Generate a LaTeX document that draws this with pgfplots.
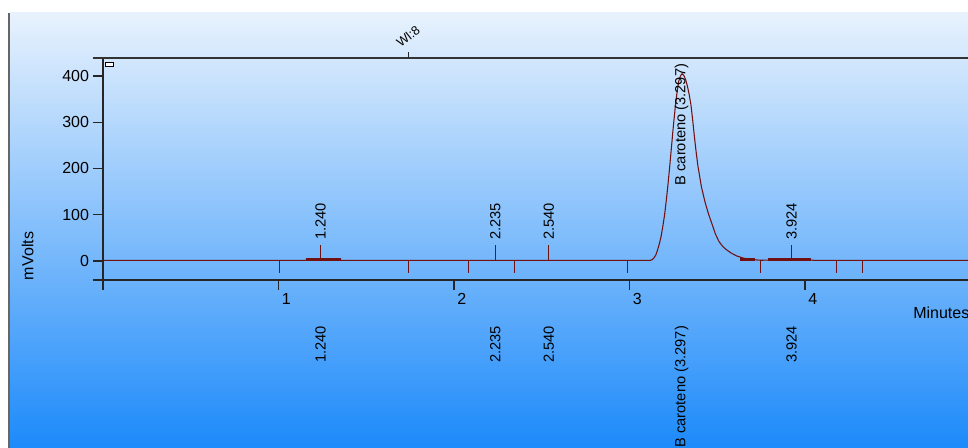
\documentclass[border=0pt]{standalone}
\usepackage{pgfplots}
\pgfplotsset{compat=1.18}
\usepackage{fontspec}
\setmainfont{Liberation Sans}
\definecolor{trace}{RGB}{112,16,16}
\definecolor{bgtop}{RGB}{232,242,253}
\definecolor{bgmid}{RGB}{135,193,251}
\definecolor{bgbot}{RGB}{28,138,250}
\newcommand{\lbl}{\fontsize{11}{12}\selectfont}
\newcommand{\tlbl}{\fontsize{12}{13}\selectfont}
\begin{document}
\begin{tikzpicture}
\fill[white] (-77.25pt,-126pt) rectangle (648.75pt,210pt);
\shade[top color=bgtop, middle color=bgmid, bottom color=bgbot] (-69.75pt,-126pt) rectangle (648.75pt,200.25pt);
\draw[line width=1.5pt, gray!80!black] (-70.5pt,-126pt) -- (-70.5pt,200.25pt);
\begin{axis}[at={(0,0)}, anchor=south west, scale only axis,
  width=648.75pt, height=166.5pt,
  xmin=0, xmax=4.9288, ymin=-41.1, ymax=438.9, clip=false,
  axis lines*=left, axis line style={-, line width=1pt, black!85},
  tick align=outside, major tick length=7.5pt,
  tick style={line width=0.8pt, black!85},
  xtick={0,1,2,3,4}, xticklabels={,1,2,3,4},
  ytick={0,100,200,300,400},
  tick label style={font=\tlbl},
  /pgf/number format/assume math mode=true,
  x tick label style={anchor=north west, xshift=-1pt, yshift=1pt},
  y tick label style={xshift=0.5pt},
]
% main trace
\addplot[trace, line width=0.8pt] coordinates {
(0.005,1.5) (1.15,1.5) (1.17,3) (1.24,4) (1.34,3) (1.36,1.5)
(3.12,1.5) (3.13,3) (3.14,7) (3.15,13) (3.16,24) (3.17,37) (3.18,53) (3.19,75)
(3.20,100) (3.21,132) (3.22,168) (3.23,208) (3.24,250) (3.25,292) (3.26,330)
(3.27,362) (3.28,388) (3.29,400) (3.30,405) (3.31,401) (3.32,392) (3.33,378)
(3.34,360) (3.35,338) (3.36,305) (3.37,268) (3.38,235) (3.39,205) (3.41,160)
(3.43,128) (3.45,102) (3.47,80) (3.49,58) (3.51,42) (3.53,32) (3.55,25)
(3.58,17) (3.61,11) (3.65,6) (3.70,3) (3.75,1.5) (3.79,2) (3.85,3) (3.92,3.5)
(4.03,2) (4.05,1.5) (4.9288,1.5)
};
% integration segments
\addplot[trace, line width=2.2pt] coordinates {(1.157,3) (1.356,3)};
\addplot[trace, line width=2.2pt] coordinates {(3.630,3) (3.715,3)};
\addplot[trace, line width=2.2pt] coordinates {(3.789,3) (4.034,3)};
% peak marks
\addplot[trace, ycomb, line width=0.75pt, mark=none] coordinates {(1.240,34.6) (2.235,34.6) (2.540,34.6) (3.924,34.6)};
% event marks
\addplot[trace, ycomb, line width=0.75pt, mark=none] coordinates {(1.003,-26) (1.738,-26) (2.085,-26) (2.342,-26) (2.991,-26) (3.749,-26) (4.177,-26) (4.325,-26)};
% labels above
\node[rotate=90, anchor=west, font=\lbl, inner sep=0pt] at (axis cs:1.240,45) {1.240};
\node[rotate=90, anchor=west, font=\lbl, inner sep=0pt] at (axis cs:2.235,45) {2.235};
\node[rotate=90, anchor=west, font=\lbl, inner sep=0pt] at (axis cs:2.540,45) {2.540};
\node[rotate=90, anchor=west, font=\lbl, inner sep=0pt] at (axis cs:3.924,45) {3.924};
\node[rotate=90, anchor=west, font=\lbl, inner sep=0pt] at (axis cs:3.297,163) {B caroteno (3.297)};
% labels below
\node[rotate=90, anchor=east, font=\lbl, inner sep=0pt] at (axis cs:1.240,-140) {1.240};
\node[rotate=90, anchor=east, font=\lbl, inner sep=0pt] at (axis cs:2.235,-140) {2.235};
\node[rotate=90, anchor=east, font=\lbl, inner sep=0pt] at (axis cs:2.540,-140) {2.540};
\node[rotate=90, anchor=east, font=\lbl, inner sep=0pt] at (axis cs:3.924,-140) {3.924};
\node[rotate=90, anchor=east, font=\lbl, inner sep=0pt] at (axis cs:3.297,-140) {B caroteno (3.297)};
\end{axis}
% frame lines
\draw[line width=1.5pt, black!80] (-7.5pt,166.5pt) -- (648.75pt,166.5pt);
\draw[line width=1.2pt, black!85] (-7.5pt,0pt) -- (648.75pt,0pt);
\draw[line width=0.8pt, black!85] (229.3pt,166.5pt) -- (229.3pt,171pt);
\draw[fill=white, line width=0.6pt] (1.5pt,160.5pt) rectangle (7.5pt,163.5pt);
\node[rotate=90, font=\tlbl] at (-56.6pt,18pt) {mVolts};
\node[anchor=west, font=\tlbl, inner sep=0pt] at (607.5pt,-24.75pt) {Minutes};
\node[rotate=38, font=\fontsize{9.5}{10}\selectfont, inner sep=0pt, anchor=south west] at (223.5pt,174pt) {Wl:8};
\pgfresetboundingbox
\path[use as bounding box] (-77.25pt,-126pt) rectangle (648.75pt,210pt);
\end{tikzpicture}
\end{document}
